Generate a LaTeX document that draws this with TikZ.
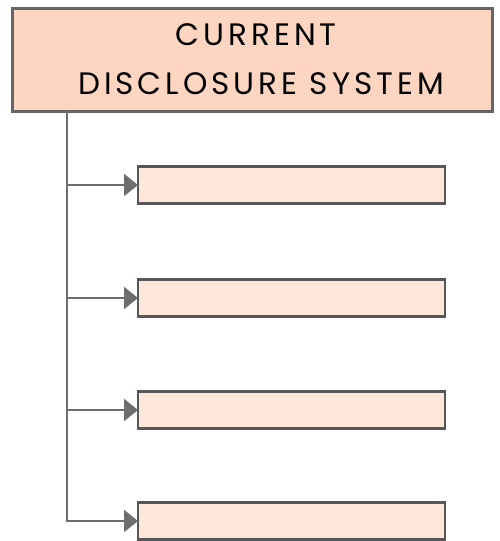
\documentclass[tikz,border=0pt]{standalone}
\usepackage{fontspec}
\setmainfont{Poppins}[LetterSpace=13]
\usetikzlibrary{arrows.meta}
\definecolor{headfill}{HTML}{FDD5C0}
\definecolor{itemfill}{HTML}{FFE6DA}
\definecolor{edge}{HTML}{666666}
\definecolor{link}{HTML}{6E6E6E}
\tikzset{
  headbox/.style={draw=edge, line width=2.4pt, fill=headfill, minimum width=480pt, minimum height=103pt, inner sep=0pt},
  titletext/.style={font=\fontsize{31}{37}\selectfont, inner sep=0pt, anchor=base},
  itembox/.style={draw=edge!85!black, line width=2.4pt, fill=itemfill, minimum width=307pt, minimum height=37pt, inner sep=0pt, anchor=west},
  linkline/.style={draw=link, line width=2.4pt},
  linkarrow/.style={linkline, -{Triangle[length=14pt,width=22pt]}, shorten >=-1pt}
}
\begin{document}
\begin{tikzpicture}[x=1pt,y=-1pt]
  \useasboundingbox (0,0) rectangle (500,541);
  \node[headbox] (head) at (252.5,60) {};
  \node[titletext] (title1) at (256,45) {CURRENT};
  \node[titletext] (title2) at (261,94) {DISCLOSURE SYSTEM};
  \coordinate (trunk) at (67,111);
  \foreach \i/\y in {1/185,2/298,3/410,4/521} {
    \node[itembox] (item\i) at (137,\y) {};
    \coordinate (tap\i) at (67,\y);
  }
  \draw[linkline] (trunk) -- (tap4);
  \foreach \i in {1,2,3} {
    \draw[linkarrow] (tap\i) -- (item\i.west);
  }
  \draw[linkarrow] ([xshift=-1.2pt]tap4) -- (item4.west);
\end{tikzpicture}
\end{document}
